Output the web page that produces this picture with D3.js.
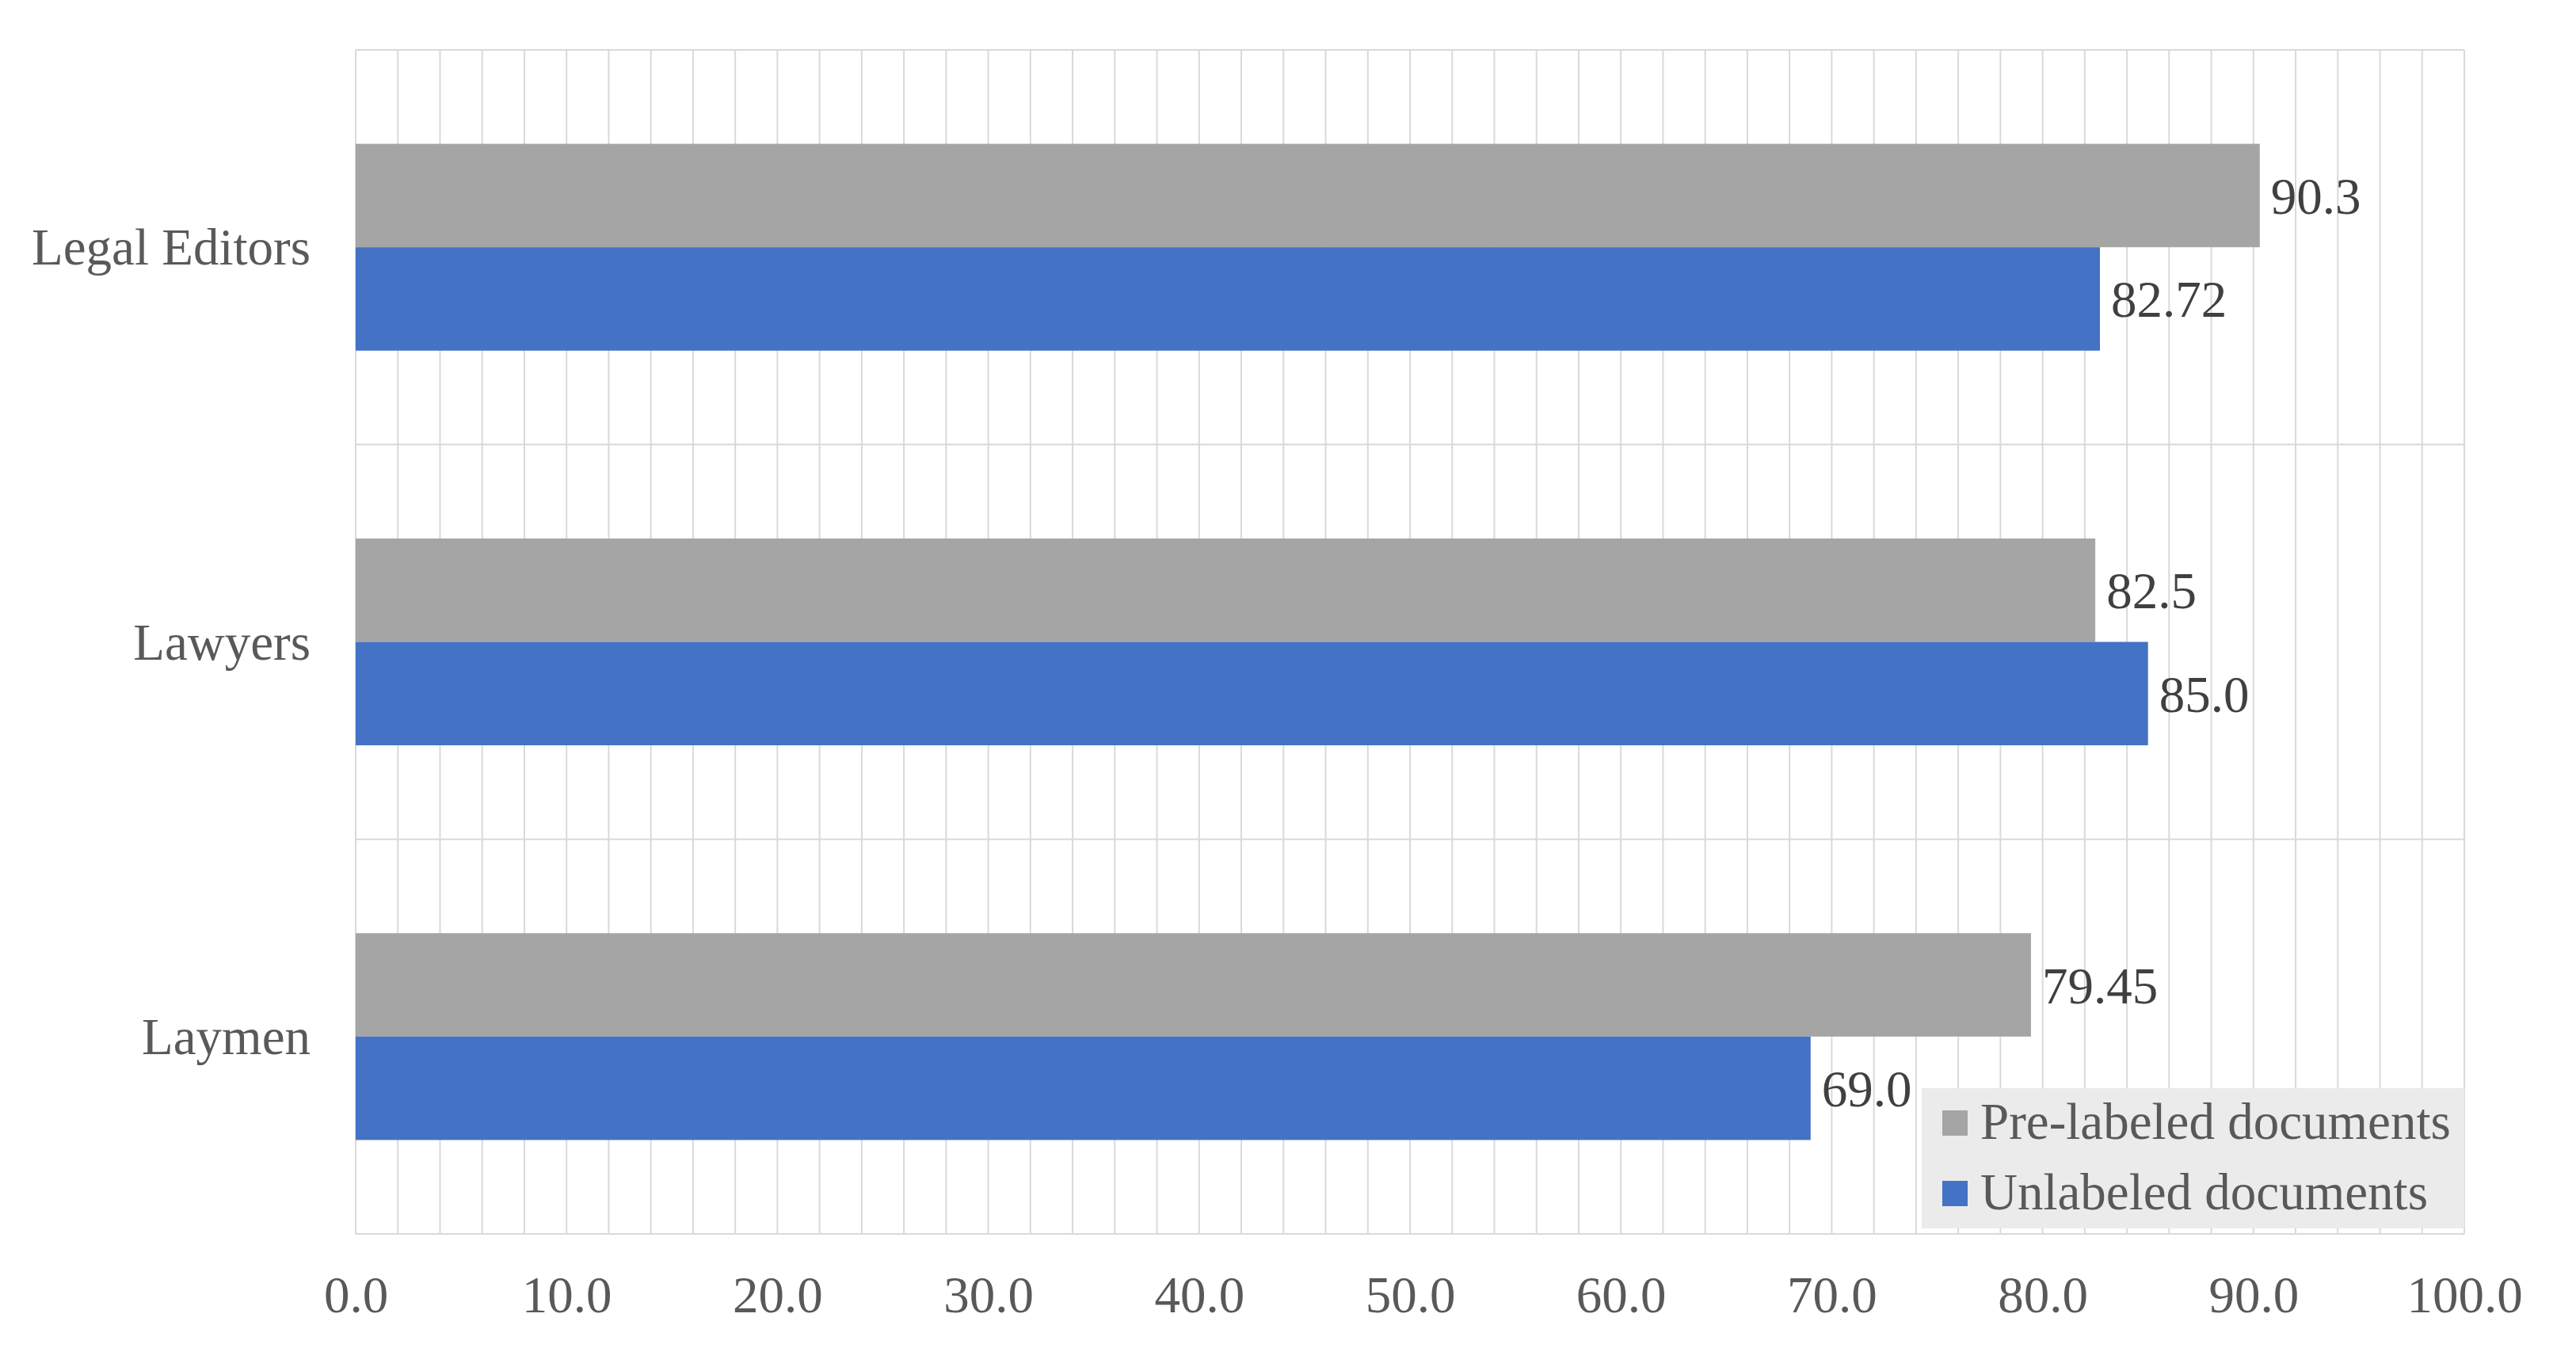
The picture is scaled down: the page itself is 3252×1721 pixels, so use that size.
<!DOCTYPE html>
<html>
<head>
<meta charset="utf-8">
<script src="https://cdn.jsdelivr.net/npm/d3@7"></script>
<style>
  html, body { margin: 0; padding: 0; background: #ffffff; }
  svg { display: block; }
</style>
</head>
<body>
<script>
// ---- Data ----
const categories = ["Legal Editors", "Lawyers", "Laymen"];
const seriesNames = ["Pre-labeled documents", "Unlabeled documents"];
const preLabeled = [90.3, 82.5, 79.45];
const unlabeled = [82.72, 85.0, 69.0];
const preLabeledText = ["90.3", "82.5", "79.45"];
const unlabeledText = ["82.72", "85.0", "69.0"];
const xTickValues = [0, 10, 20, 30, 40, 50, 60, 70, 80, 90, 100];
const xTickLabels = ["0.0", "10.0", "20.0", "30.0", "40.0", "50.0", "60.0", "70.0", "80.0", "90.0", "100.0"];
const seriesColors = ["#a5a5a5", "#4472c4"];

// ---- Layout ----
const W = 3252, H = 1721;
const plot = { left: 449, right: 3111, top: 63, bottom: 1558 };
const FONT = "'Liberation Serif', 'Times New Roman', serif";

const svg = d3.select("body").append("svg")
  .attr("width", W).attr("height", H)
  .attr("viewBox", `0 0 ${W} ${H}`);

const x = d3.scaleLinear().domain([0, 100]).range([plot.left, plot.right]);
const y = d3.scaleBand().domain(categories).range([plot.top, plot.bottom])
  .paddingInner(0.476).paddingOuter(0.238);
const ySub = d3.scaleBand().domain(seriesNames).range([0, y.bandwidth()]);

const step = y.step();

// Vertical gridlines (every 2 units)
const gridVals = d3.range(0, 100.001, 2);
svg.append("g").selectAll("line").data(gridVals).join("line")
  .attr("x1", d => x(d)).attr("x2", d => x(d))
  .attr("y1", plot.top).attr("y2", plot.bottom)
  .attr("stroke", "#d9d9d9").attr("stroke-width", 2);

// Horizontal category boundary lines
const hLines = d3.range(0, categories.length + 1).map(i => plot.top + i * step);
svg.append("g").selectAll("line").data(hLines).join("line")
  .attr("x1", plot.left).attr("x2", plot.right)
  .attr("y1", d => d).attr("y2", d => d)
  .attr("stroke", "#d9d9d9").attr("stroke-width", 2);

// Bars
const rows = categories.map((c, i) => ({
  cat: c,
  vals: [
    { s: seriesNames[0], v: preLabeled[i], t: preLabeledText[i], color: seriesColors[0] },
    { s: seriesNames[1], v: unlabeled[i], t: unlabeledText[i], color: seriesColors[1] }
  ]
}));

const groups = svg.append("g").selectAll("g").data(rows).join("g")
  .attr("transform", d => `translate(0,${y(d.cat)})`);

groups.selectAll("rect").data(d => d.vals).join("rect")
  .attr("x", x(0))
  .attr("y", d => ySub(d.s))
  .attr("width", d => x(d.v) - x(0))
  .attr("height", ySub.bandwidth())
  .attr("fill", d => d.color);

groups.selectAll("text").data(d => d.vals).join("text")
  .attr("x", d => x(d.v) + 14)
  .attr("y", d => ySub(d.s) + ySub.bandwidth() / 2 + 23)
  .attr("font-family", FONT)
  .attr("font-size", 65)
  .attr("fill", "#404040")
  .text(d => d.t);

// X axis tick labels
const xAxis = d3.axisBottom(x).tickValues(xTickValues)
  .tickFormat((d, i) => xTickLabels[i]).tickSize(0).tickPadding(0);
const gx = svg.append("g").attr("transform", `translate(0,${plot.bottom})`).call(xAxis);
gx.select(".domain").remove();
gx.selectAll("text")
  .attr("font-family", FONT).attr("font-size", 65).attr("fill", "#595959")
  .attr("dy", null).attr("y", 99);

// Y axis category labels
const yAxis = d3.axisLeft(y).tickSize(0).tickPadding(0);
const gy = svg.append("g").attr("transform", `translate(${plot.left - 57},0)`).call(yAxis);
gy.select(".domain").remove();
gy.selectAll("text")
  .attr("font-family", FONT).attr("font-size", 65).attr("fill", "#595959")
  .attr("dy", null).attr("y", 22).attr("text-anchor", "end");

// Legend
const legend = svg.append("g");
legend.append("rect")
  .attr("x", 2426).attr("y", 1374).attr("width", plot.right - 2426).attr("height", 177)
  .attr("fill", "#ebebeb");
const legItems = legend.selectAll("g").data(seriesNames).join("g")
  .attr("transform", (d, i) => `translate(2452,${1402 + i * 89})`);
legItems.append("rect").attr("width", 32).attr("height", 32)
  .attr("fill", (d, i) => seriesColors[i]);
legItems.append("text")
  .attr("x", 48).attr("y", 36)
  .attr("font-family", FONT).attr("font-size", 65).attr("fill", "#595959")
  .text(d => d);
</script>
</body>
</html>
